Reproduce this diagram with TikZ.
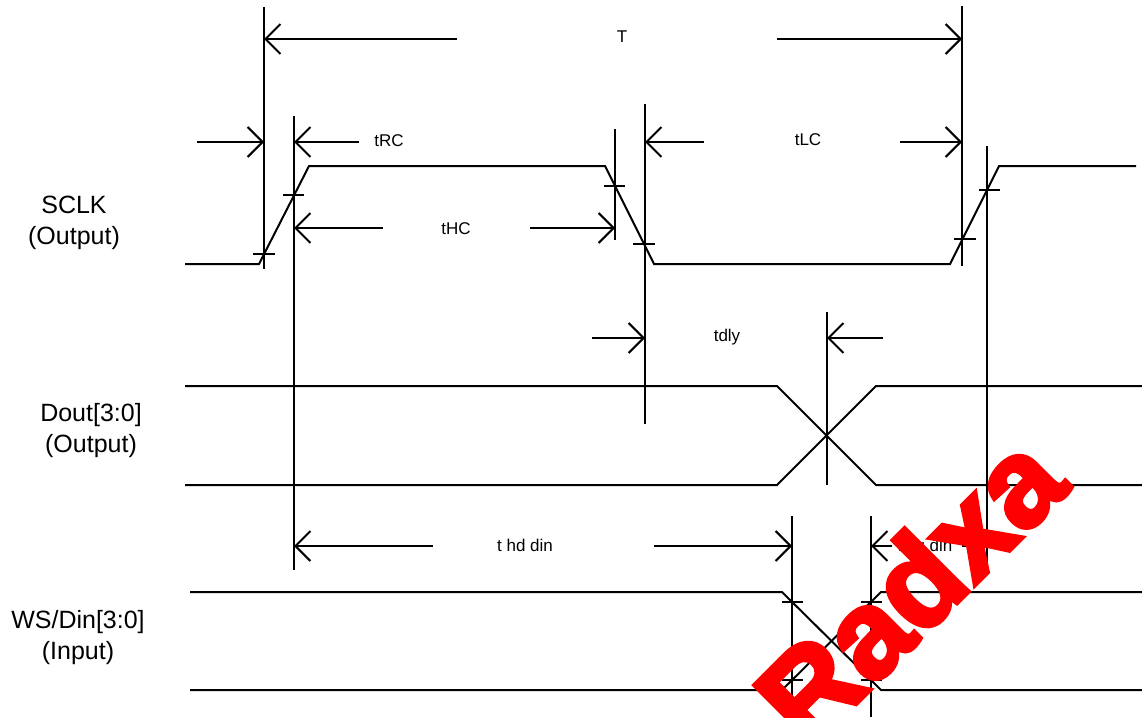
\documentclass[tikz,border=0pt]{standalone}
\usepackage{fontspec}
\setmainfont{Liberation Sans}
\newfontfamily\markfont{Liberation Sans}[BoldFeatures={FakeBold=3.5}]
\usetikzlibrary{arrows.meta}
\definecolor{radxared}{rgb}{1, 0, 0}

\begin{document}
\begin{tikzpicture}[x=1pt,y=-1pt,>={Straight Barb[length=15pt,width=30pt]},line width=2pt]
        \tikzstyle{signame}=[font=\fontsize{25}{31}\selectfont,align=center,inner sep=0pt]
        \tikzstyle{dimlabel}=[font=\fontsize{17}{20}\selectfont,inner sep=0pt]
        \useasboundingbox (0,0) rectangle (1142,717);

        % Signal names
        \node[signame] (sclk) at (74,223) {SCLK\\(Output)};
        \node[signame] (dout) at (91,431) {Dout[3:0]\\(Output)};
        \node[signame] (wsdin) at (78,638) {WS/Din[3:0]\\(Input)};

        % SCLK
        \draw (185,264) -- (259,264) -- (309,166) -- (605,166) -- (654,264) -- (950,264) -- (999,166) -- (1136,166);

        % Dout
        \draw (185,386) -- (777,386) -- (876,485) -- (1142,485);
        \draw (185,485) -- (777,485) -- (876,386) -- (1142,386);

        % WS/Din
        \draw (190,592) -- (782,592) -- (881,690) -- (1142,690);
        \draw (190,690) -- (782,690) -- (881,592) -- (1142,592);

        % Guide lines
        \draw (264,7) -- (264,269);
        \draw (294,116) -- (294,570);
        \draw (615,129) -- (615,240);
        \draw (645,104) -- (645,424);
        \draw (962,6) -- (962,266);
        \draw (987,146) -- (987,570);
        \draw (827,312) -- (827,485);
        \draw (792,516) -- (792,700);
        \draw (871,516) -- (871,717);

        % Level marks on the edges
        \draw (253,254) -- (275,254);
        \draw (283,195) -- (304,195);
        \draw (604,186) -- (625,186);
        \draw (633,244) -- (655,244);
        \draw (954,239) -- (976,239);
        \draw (979,190) -- (1000,190);
        \draw (782,602) -- (803,602);
        \draw (861,602) -- (882,602);
        \draw (782,680) -- (803,680);
        \draw (861,680) -- (882,680);

        % Period
        \node[dimlabel] (tlabel) at (622,37) {T};
        \draw[->] (457,39) -- (264,39);
        \draw[->] (777,39) -- (962,39);

        % Rise and low time
        \node[dimlabel] (trc) at (389,141) {tRC};
        \draw[->] (197,142) -- (264,142);
        \draw[->] (359,142) -- (294,142);
        \node[dimlabel] (tlc) at (808,140) {tLC};
        \draw[->] (704,142) -- (645,142);
        \draw[->] (900,142) -- (962,142);

        % High time
        \node[dimlabel] (thc) at (456,229) {tHC};
        \draw[->] (383,228) -- (294,228);
        \draw[->] (530,228) -- (615,228);

        % Output delay
        \node[dimlabel] (tdly) at (727,337) {tdly};
        \draw[->] (592,338) -- (645,338);
        \draw[->] (883,338) -- (827,338);

        % Input hold and setup
        \node[dimlabel] (thd) at (525,545) {t hd din};
        \draw[->] (433,546) -- (294,546);
        \draw[->] (654,546) -- (792,546);
        \node[dimlabel] (tsu) at (925,545) {t su din};
        \draw[->] (892,546) -- (871,546);
        \draw[->] (962,546) -- (987,546);

        % Watermark
        \node[radxared,font=\fontsize{124}{124}\markfont\bfseries,rotate=45,anchor=base west,inner sep=0pt] (mark) at (808,752) {Radxa};
\end{tikzpicture}
\end{document}
